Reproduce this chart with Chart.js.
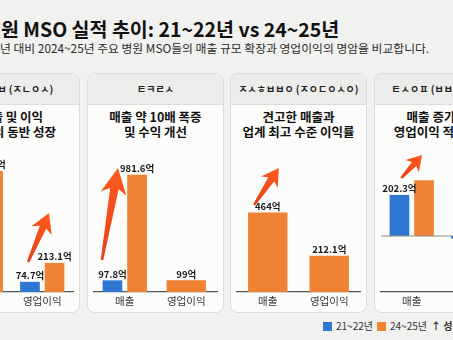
<!DOCTYPE html>
<html><head><meta charset="utf-8">
<script src="https://cdn.jsdelivr.net/npm/chart.js@4.4.1/dist/chart.umd.min.js"></script>
<style>
html,body{margin:0;padding:0;}
body{width:453px;height:340px;overflow:hidden;background:#f1f1ef;position:relative;font-family:'Noto Sans CJK KR','Noto Sans',sans-serif;color:#111;}
.title{position:absolute;left:1px;top:14px;font-size:19.5px;font-weight:700;white-space:nowrap;}
.sub{position:absolute;left:0;top:39px;font-size:11.8px;color:#2a2a2a;white-space:nowrap;}
.card{position:absolute;top:73px;width:137px;height:240px;background:#fcfcfb;border:1px solid #dcdcda;border-radius:8px;box-sizing:border-box;overflow:hidden;}
.hd{height:30px;background:#ececeb;border-bottom:1px solid #dcdcda;text-align:center;line-height:30px;font-size:10px;font-weight:700;white-space:nowrap;color:#222;}
.ct{position:absolute;top:35px;left:0;width:100%;text-align:center;font-size:12.5px;font-weight:700;line-height:15px;white-space:nowrap;color:#111;}
canvas.c{position:absolute;top:130px;}
.lg{position:absolute;top:319px;font-size:10px;color:#333;white-space:nowrap;line-height:14px;}
.sw{position:absolute;top:322px;width:9px;height:9px;}
</style>
</head>
<body>
<div class="title">원 MSO 실적 추이: 21~22년 vs 24~25년</div>
<div class="sub">년 대비 2024~25년 주요 병원 MSO들의 매출 규모 확장과 영업이익의 명암을 비교합니다.</div>
<div id="cards"></div>
<div class="sw" style="left:323px;background:#2f78d1"></div>
<div class="lg" style="left:336px">21~22년</div>
<div class="sw" style="left:377px;background:#ef8233"></div>
<div class="lg" style="left:390px">24~25년</div>
<div class="lg" style="left:431px;font-weight:700">↑ 성장 추세</div>
<script>
const categories = ['매출', '영업이익'];
const seriesNames = ['21~22년', '24~25년'];
const cardNames = ['ㅈㅇㅂㅂ (ㅈㄴㅇㅅ)', 'ㅌㅋㄹㅅ', 'ㅈㅅㅎㅂㅂㅇ (ㅈㅇㄷㅇㅅㅇ)', 'ㅌㅅㅇㅍ (ㅂㅂㅇㅎㅅㅇ)'];
const cardNotes = [['매출 및 이익', '큰 폭의 동반 성장'], ['매출 약 10배 폭증', '및 수익 개선'], ['견고한 매출과', '업계 최고 수준 이익률'], ['매출 증가에도', '영업이익 적자 지속']];
const values2122 = [[420, 74.7], [97.8, null], [null, null], [202.3, -12.4]];
const values2425 = [[887, 213.1], [981.6, 99], [464, 212.1], [275, -38.5]];
const axisMin = [0, 0, 0, -276];
const axisMax = [1040, 1190, 830, 424];
// growth arrows in data space: [from category, from value, to category, to value]
const arrows = [[0.77, 220, 1.11, 578], [-0.37, 268, -0.11, 1039], [-0.22, 509, 0.18, 725], [-0.17, 286, 0.17, 399]];

const cardLeft = [-57, 87, 230, 374];
const arrowSize = [[19, 22, 2.5, 7], [26, 26, 2.5, 8.5], [17, 20, 2.5, 7], [15, 18, 2.5, 6]];
const hidden = [[], [], [], [[1, 0], [0, 1], [1, 1]]];

Chart.defaults.font.family = "'Noto Sans CJK KR','Noto Sans',sans-serif";

function drawArrow(ctx, x1, y1, x2, y2, headLen, headW, tailW, neckW) {
  const dx = x2 - x1, dy = y2 - y1, L = Math.hypot(dx, dy), ux = dx / L, uy = dy / L, nx = -uy, ny = ux;
  const bx = x2 - ux * headLen, by = y2 - uy * headLen;
  const cx = x2 - ux * headLen * 0.8, cy = y2 - uy * headLen * 0.8;
  ctx.beginPath();
  ctx.moveTo(x1 + nx * tailW / 2, y1 + ny * tailW / 2);
  ctx.lineTo(cx + nx * neckW / 2, cy + ny * neckW / 2);
  ctx.lineTo(bx + nx * headW / 2, by + ny * headW / 2);
  ctx.lineTo(x2, y2);
  ctx.lineTo(bx - nx * headW / 2, by - ny * headW / 2);
  ctx.lineTo(cx - nx * neckW / 2, cy - ny * neckW / 2);
  ctx.lineTo(x1 - nx * tailW / 2, y1 - ny * tailW / 2);
  ctx.closePath();
  const g = ctx.createLinearGradient(x1, y1, x2, y2);
  g.addColorStop(0, '#e8401a');
  g.addColorStop(1, '#ff5a1e');
  ctx.fillStyle = g;
  ctx.fill();
}

const annot = {
  id: 'annot',
  afterDatasetsDraw(chart, args, opts) {
    const ctx = chart.ctx, xs = chart.scales.x, ys = chart.scales.y, a = chart.chartArea;
    if (ys.min < 0) {
      const zy = ys.getPixelForValue(0);
      ctx.save(); ctx.strokeStyle = '#8a8a8a'; ctx.lineWidth = 1.2;
      ctx.beginPath(); ctx.moveTo(a.left, zy); ctx.lineTo(a.right, zy); ctx.stroke(); ctx.restore();
    }
    ctx.save();
    ctx.font = "bold 9.5px 'Noto Sans CJK KR'";
    ctx.fillStyle = '#1a1a1a'; ctx.textAlign = 'center';
    chart.data.datasets.forEach((ds, di) => {
      const meta = chart.getDatasetMeta(di);
      meta.data.forEach((bar, i) => {
        const v = ds.data[i];
        if (v === null || v === undefined) return;
        if ((opts.hide || []).some(h => h[0] === di && h[1] === i)) return;
        if (v >= 0) { ctx.textBaseline = 'bottom'; ctx.fillText(v + '억', bar.x, bar.y - 1.5); }
        else { ctx.textBaseline = 'top'; ctx.fillText(v + '억', bar.x, bar.y + 1.5); }
      });
    });
    ctx.restore();
    if (opts.arrow) {
      const [c1, v1, c2, v2] = opts.arrow;
      const s = opts.size;
      ctx.save();
      drawArrow(ctx, xs.getPixelForValue(c1), ys.getPixelForValue(v1), xs.getPixelForValue(c2), ys.getPixelForValue(v2), s[0], s[1], s[2], s[3]);
      ctx.restore();
    }
  }
};

const cardsEl = document.getElementById('cards');
for (let i = 0; i < 4; i++) {
  const card = document.createElement('div');
  card.className = 'card';
  card.style.left = cardLeft[i] + 'px';
  card.innerHTML = '<div class="hd">' + cardNames[i] + '</div><div class="ct">' + cardNotes[i][0] + '<br>' + cardNotes[i][1] + '</div>';
  cardsEl.appendChild(card);
  const cv = document.createElement('canvas');
  cv.className = 'c';
  cv.width = 137; cv.height = 180;
  cv.style.left = cardLeft[i] + 'px';
  document.body.appendChild(cv);
  new Chart(cv, {
    type: 'bar',
    data: {
      labels: categories,
      datasets: [
        { label: seriesNames[0], data: values2122[i], backgroundColor: '#2f78d1' },
        { label: seriesNames[1], data: values2425[i], backgroundColor: '#ef8233' }
      ]
    },
    options: {
      responsive: false, animation: false, devicePixelRatio: 1,
      layout: { padding: { left: 7, right: 7, top: 20, bottom: 0 } },
      datasets: { bar: { categoryPercentage: 0.8, barPercentage: 0.8, skipNull: true } },
      plugins: {
        legend: { display: false }, tooltip: { enabled: false },
        annot: { arrow: arrows[i], size: arrowSize[i], hide: hidden[i] }
      },
      scales: {
        x: {
          grid: { display: false, drawTicks: false },
          border: { display: true, color: '#555', width: 1.2 },
          ticks: { color: '#333', font: { size: 10.5 }, padding: 3 },
          afterFit(s) { s.height = 18; }
        },
        y: { display: false, min: axisMin[i], max: axisMax[i] }
      }
    },
    plugins: [annot]
  });
}
</script>
</body></html>
